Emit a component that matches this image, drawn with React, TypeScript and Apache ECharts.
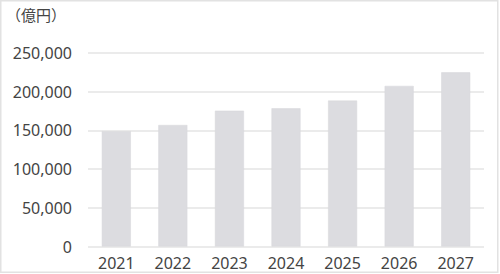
import React, { useEffect, useRef } from "react";
import * as echarts from "echarts";

const categories = ["2021", "2022", "2023", "2024", "2025", "2026", "2027"];
const values = [149000, 157000, 175500, 178500, 188500, 207500, 225000];
const unitLabel = "（億円）";

export default function App() {
  const ref = useRef<HTMLDivElement>(null);
  useEffect(() => {
    const chart = echarts.init(ref.current!, null, { renderer: "svg" });
    chart.setOption({
      animation: false,
      backgroundColor: "#ffffff",
      graphic: [
        {
          type: "rect",
          shape: { x: 0.75, y: 0.75, width: 497, height: 271.5 },
          style: { fill: "none", stroke: "#e2e2e2", lineWidth: 1.5 },
          silent: true,
        },
        {
          type: "text",
          left: 6,
          top: 7,
          style: {
            text: unitLabel,
            fill: "#444444",
            font: '15px "Noto Sans CJK JP", "Noto Sans", sans-serif',
          },
        },
      ],
      grid: { left: 88, right: 16, top: 53, bottom: 27.5 },
      xAxis: {
        type: "category",
        data: categories,
        axisLine: { show: false },
        axisTick: { show: false },
        axisLabel: {
          color: "#444444",
          fontSize: 16,
          fontFamily: '"Noto Sans", sans-serif',
          margin: 8,
        },
      },
      yAxis: {
        type: "value",
        min: 0,
        max: 250000,
        interval: 50000,
        axisLine: { show: false },
        axisTick: { show: false },
        splitLine: { lineStyle: { color: "#e4e4e4", width: 1.5 } },
        axisLabel: {
          color: "#444444",
          fontSize: 16,
          fontFamily: '"Noto Sans", sans-serif',
          margin: 16,
          formatter: (v: number) => v.toLocaleString("en-US"),
        },
      },
      series: [
        {
          type: "bar",
          data: values,
          barWidth: 29,
          itemStyle: { color: "#dcdce0", borderColor: "#d6d6da", borderWidth: 0.5 },
        },
      ],
    });
    return () => chart.dispose();
  }, []);
  return (
    <div
      ref={ref}
      style={{ position: "absolute", left: 0, top: 0, width: 500, height: 274 }}
    />
  );
}
